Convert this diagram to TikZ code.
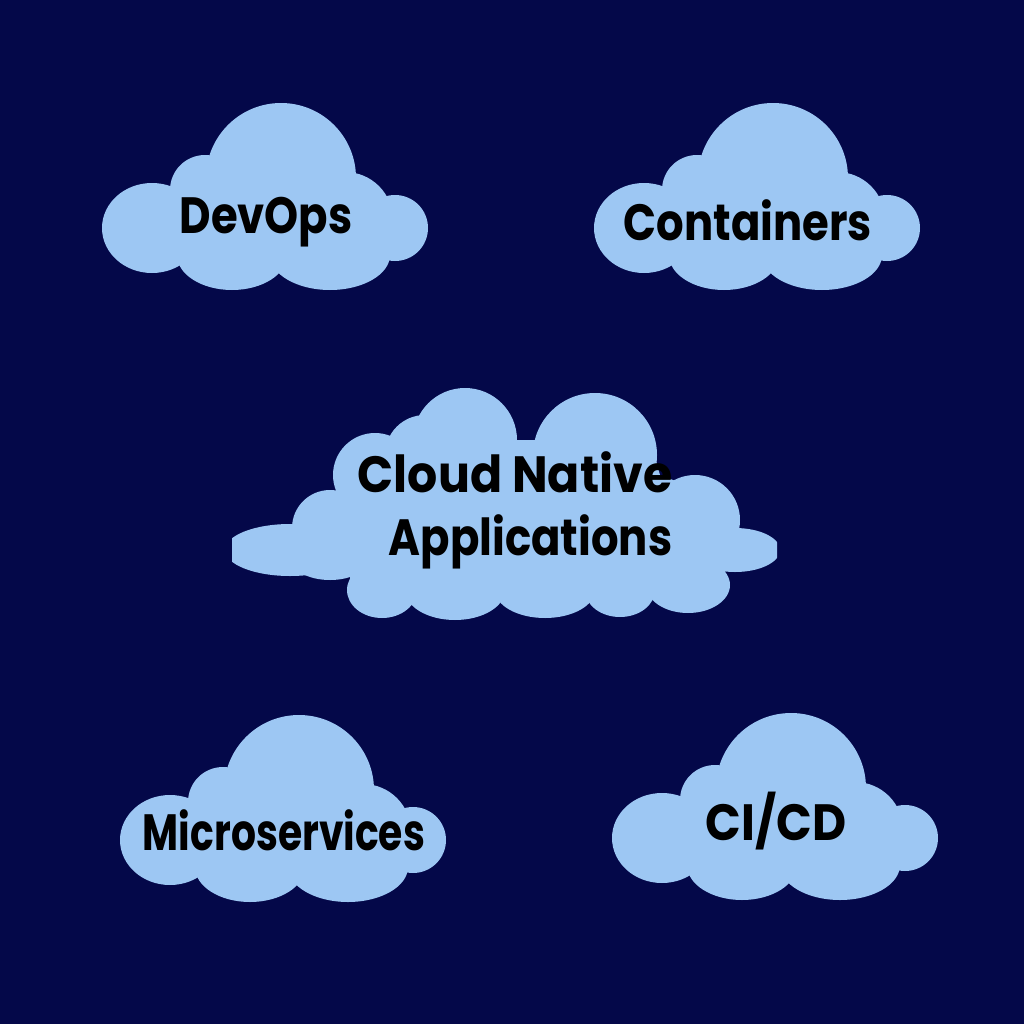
\documentclass[tikz,border=0pt]{standalone}
\usepackage{fontspec}
\setmainfont{Poppins}[FakeStretch=0.85]
\usepackage{tikz}
\usetikzlibrary{positioning}
\definecolor{navy}{HTML}{040849}
\definecolor{skyblue}{HTML}{9DC7F3}

\begin{document}
\begin{tikzpicture}[
    x=0.01cm, y=-0.01cm,
    cloudtext/.style={font=\fontsize{14.5}{17}\selectfont\bfseries, text=black, inner sep=0pt},
    smallcloud/.pic={
        \fill[skyblue] (15,-37) circle[radius=75];
        \fill[skyblue] (-61,-25) circle[radius=35];
        \fill[skyblue] (-114,13) ellipse[x radius=50, y radius=45];
        \fill[skyblue] (79,5) circle[radius=48];
        \fill[skyblue] (129,13) circle[radius=33];
        \fill[skyblue] (-34,40) ellipse[x radius=55, y radius=35];
        \fill[skyblue] (64,40) ellipse[x radius=60, y radius=35];
        \fill[skyblue] (-106,30) ellipse[x radius=30, y radius=25];
        \fill[skyblue] (-116,5) -- (-66,-25) -- (94,-25) -- (134,5) -- (124,40) -- (-86,45) -- cycle;
    }
]

\fill[navy] (0,0) rectangle (1024,1024);

\pic at (266,215) {smallcloud};
\pic at (758,215) {smallcloud};
\pic at (284,827) {smallcloud};
\pic at (776,825) {smallcloud};

\begin{scope}
\clip (232,0) rectangle (777,1024);
\fill[skyblue] (290,550) ellipse[x radius=65, y radius=26];
\fill[skyblue] (330,560) ellipse[x radius=38, y radius=20];
\fill[skyblue] (330,528) circle[radius=38];
\fill[skyblue] (375,475) circle[radius=42];
\fill[skyblue] (425,455) circle[radius=40];
\fill[skyblue] (465,440) circle[radius=52];
\fill[skyblue] (595,455) circle[radius=62];
\fill[skyblue] (695,520) circle[radius=45];
\fill[skyblue] (735,550) ellipse[x radius=45, y radius=22];
\fill[skyblue] (382,590) ellipse[x radius=35, y radius=28];
\fill[skyblue] (455,590) ellipse[x radius=50, y radius=30];
\fill[skyblue] (545,590) ellipse[x radius=50, y radius=28];
\fill[skyblue] (620,590) ellipse[x radius=35, y radius=27];
\fill[skyblue] (688,585) ellipse[x radius=42, y radius=28];
\fill[skyblue] (350,480) -- (420,440) -- (650,440) -- (660,475) -- (725,500) -- (725,595) -- (350,595) -- cycle;
\end{scope}

\node[cloudtext, anchor=base] (devops) at (266,233) {DevOps};
\node[cloudtext, anchor=base] (containers) at (748,240) {Containers};
\node[cloudtext, anchor=base east] (cloudnative) at (673,492) {\addfontfeatures{FakeStretch=0.93}Cloud Native};
\node[cloudtext, anchor=base east] (applications) at (673,555) {Applications};
\node[cloudtext, anchor=base] (microservices) at (284,850) {\addfontfeatures{FakeStretch=0.77}Microservices};
\node[cloudtext, anchor=base] (cicd) at (776,840) {\addfontfeatures{FakeStretch=0.92}CI/CD};

\end{tikzpicture}
\end{document}
